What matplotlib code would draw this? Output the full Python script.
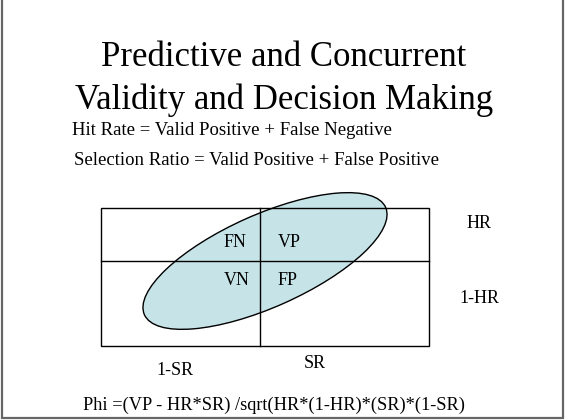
import matplotlib.pyplot as plt
from matplotlib.patches import Ellipse, Rectangle

# slide text
title_lines = ['Predictive and Concurrent', 'Validity and Decision Making']
definitions = ['Hit Rate = Valid Positive + False Negative',
               'Selection Ratio = Valid Positive + False Positive']
cell_labels = ['FN', 'VP', 'VN', 'FP']
row_labels = ['HR', '1-HR']
col_labels = ['1-SR', 'SR']
formula = 'Phi =(VP - HR*SR) /sqrt(HR*(1-HR)*(SR)*(1-SR)'

plt.rcParams['font.family'] = ['Liberation Serif', 'DejaVu Serif']

fig = plt.figure(figsize=(5.65, 4.2), dpi=100)
ax = fig.add_axes([0, 0, 1, 1])
ax.set_xlim(0, 565)
ax.set_ylim(420, 0)
ax.axis('off')

# slide border (left, right, bottom)
ax.plot([2, 2, 563, 563], [0, 418, 418, 0], color='#666666', lw=1.6,
        solid_joinstyle='miter')

# title
ax.text(284, 66, title_lines[0], ha='center', va='baseline', fontsize=25)
ax.text(284, 109, title_lines[1], ha='center', va='baseline', fontsize=25)

ax.text(72, 135, definitions[0], ha='left', va='baseline', fontsize=13.5)
ax.text(74, 165, definitions[1], ha='left', va='baseline', fontsize=13.5)

# ellipse behind grid
ax.add_patch(Ellipse((265, 261), 264, 92.6, angle=-24, facecolor='#c6e4e8',
                     edgecolor='black', lw=1))

# 2x2 grid
ax.add_patch(Rectangle((101, 208), 328, 138, fill=False, edgecolor='black', lw=1))
ax.plot([260, 260], [208, 346], color='black', lw=1)
ax.plot([101, 429], [261, 261], color='black', lw=1)

cell_pos = [(235, 247), (289, 247), (237, 285), (288, 285)]
for lab, (x, y) in zip(cell_labels, cell_pos):
    ax.text(x, y, lab, ha='center', va='baseline', fontsize=13)

for lab, y in zip(row_labels, [228, 303]):
    ax.text(479, y, lab, ha='center', va='baseline', fontsize=13)

for lab, (x, y) in zip(col_labels, [(175, 375), (315, 368)]):
    ax.text(x, y, lab, ha='center', va='baseline', fontsize=13)

ax.text(83, 410, formula, ha='left', va='baseline', fontsize=13.2)

fig.savefig('out.png', dpi=100)
